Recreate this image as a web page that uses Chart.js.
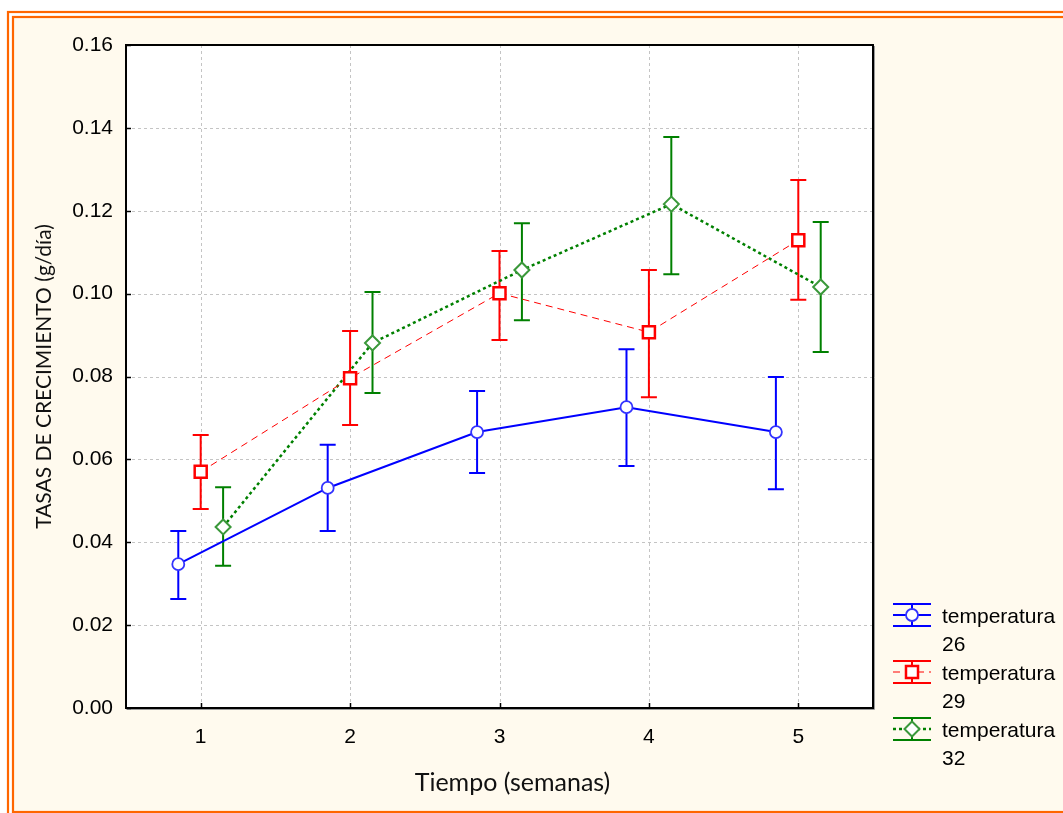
<!DOCTYPE html>
<html><head><meta charset="utf-8">
<script src="https://cdn.jsdelivr.net/npm/chart.js@4"></script>
<style>html,body{margin:0;padding:0;background:#fff}canvas{display:block}</style>
</head><body>
<canvas id="c" width="1063" height="813"></canvas>
<script>
// ---- data ----
const weeks = [1, 2, 3, 4, 5];
const yTicks = [0, 0.02, 0.04, 0.06, 0.08, 0.10, 0.12, 0.14, 0.16];
const seriesLabels = ['temperatura 26', 'temperatura 29', 'temperatura 32'];
const dodge = [-0.15, 0, 0.15];

const mean26  = [0.0347, 0.0531, 0.0666, 0.0726, 0.0666];
const upper26 = [0.0427, 0.0635, 0.0765, 0.0866, 0.0799];
const lower26 = [0.0263, 0.0427, 0.0567, 0.0584, 0.0528];

const mean29  = [0.0570, 0.0796, 0.1001, 0.0907, 0.1129];
const upper29 = [0.0659, 0.0910, 0.1103, 0.1057, 0.1274];
const lower29 = [0.0480, 0.0683, 0.0888, 0.0750, 0.0985];

const mean32  = [0.0437, 0.0881, 0.1057, 0.1216, 0.1016];
const upper32 = [0.0533, 0.1004, 0.1170, 0.1378, 0.1173];
const lower32 = [0.0343, 0.0760, 0.0936, 0.1047, 0.0859];

const means = [mean26, mean29, mean32];
const uppers = [upper26, upper29, upper32];
const lowers = [lower26, lower29, lower32];

const colors = ['#0000ff', '#ff0000', '#008000'];
const markerColors = ['#3333ff', '#ff0000', '#3a983a'];
const styles = [
  {dash: [], width: 2, point: 'circle', r: 6, bw: 1.8},
  {dash: [7, 5], width: 1, point: 'rect', r: 8.5, bw: 2.5},
  {dash: [3, 3], width: 2.5, point: 'rectRot', r: 7.5, bw: 2}
];

const TICK_FONT = {family: "'Liberation Sans', Arial, sans-serif", size: 21};

const datasets = means.map((m, i) => ({
  label: seriesLabels[i],
  data: weeks.map((w, j) => ({x: w + dodge[i], y: m[j]})),
  borderColor: colors[i],
  borderWidth: styles[i].width,
  borderDash: styles[i].dash,
  showLine: true,
  tension: 0,
  fill: false,
  pointStyle: styles[i].point,
  pointRadius: styles[i].r,
  pointHoverRadius: styles[i].r,
  pointBorderWidth: styles[i].bw,
  pointBorderColor: markerColors[i],
  pointBackgroundColor: '#ffffff'
}));

function drawMarker(ctx, style, x, y, r, bw, color) {
  ctx.save();
  ctx.setLineDash([]);
  ctx.lineWidth = bw; ctx.strokeStyle = color; ctx.fillStyle = '#fff';
  ctx.beginPath();
  if (style === 'circle') {
    ctx.arc(x, y, r, 0, Math.PI * 2);
  } else if (style === 'rect') {
    const s = Math.SQRT1_2 * r;
    ctx.rect(x - s, y - s, 2 * s, 2 * s);
  } else {
    ctx.moveTo(x, y - r); ctx.lineTo(x + r, y); ctx.lineTo(x, y + r); ctx.lineTo(x - r, y); ctx.closePath();
  }
  ctx.fill(); ctx.stroke();
  ctx.restore();
}

const framePlugin = {
  id: 'frame',
  beforeDraw(chart) {
    const ctx = chart.ctx, W = chart.width, H = chart.height, a = chart.chartArea;
    ctx.save();
    ctx.fillStyle = '#ffffff'; ctx.fillRect(0, 0, W, H);
    ctx.fillStyle = '#fffaee'; ctx.fillRect(13, 17, W, H - 17 - 1);
    ctx.strokeStyle = '#ff6600'; ctx.lineWidth = 2.2;
    ctx.strokeRect(8, 12, W + 40, H + 40);
    ctx.strokeRect(13, 17, W + 40, H - 17 - 1);
    ctx.fillStyle = '#ffffff';
    ctx.fillRect(a.left, a.top, a.right - a.left, a.bottom - a.top);
    ctx.restore();
  },
  beforeDatasetsDraw(chart) {
    const ctx = chart.ctx, a = chart.chartArea, xs = chart.scales.x, ys = chart.scales.y;
    ctx.save();
    ctx.strokeStyle = '#c4c4c4'; ctx.lineWidth = 1; ctx.setLineDash([3, 3]);
    weeks.forEach(w => {
      const px = Math.round(xs.getPixelForValue(w)) + 0.5;
      ctx.beginPath(); ctx.moveTo(px, a.top); ctx.lineTo(px, a.bottom); ctx.stroke();
    });
    yTicks.forEach(v => {
      const py = Math.round(ys.getPixelForValue(v)) + 0.5;
      ctx.beginPath(); ctx.moveTo(a.left, py); ctx.lineTo(a.right, py); ctx.stroke();
    });
    ctx.setLineDash([]);
    // error bars
    chart.data.datasets.forEach((ds, i) => {
      const meta = chart.getDatasetMeta(i);
      ctx.strokeStyle = colors[i]; ctx.lineWidth = 2;
      meta.data.forEach((pt, j) => {
        const x = pt.x;
        const yu = ys.getPixelForValue(uppers[i][j]);
        const yl = ys.getPixelForValue(lowers[i][j]);
        ctx.beginPath();
        ctx.moveTo(x, yu); ctx.lineTo(x, yl);
        ctx.moveTo(x - 8, yu); ctx.lineTo(x + 8, yu);
        ctx.moveTo(x - 8, yl); ctx.lineTo(x + 8, yl);
        ctx.stroke();
      });
    });
    ctx.restore();
  },
  afterDraw(chart) {
    const ctx = chart.ctx, a = chart.chartArea, xs = chart.scales.x, ys = chart.scales.y;
    ctx.save();
    // plot border with faint shadow
    ctx.strokeStyle = '#9a9a9a'; ctx.lineWidth = 1;
    ctx.beginPath();
    ctx.moveTo(a.right + 1.5, a.top + 1); ctx.lineTo(a.right + 1.5, a.bottom + 1.5); ctx.lineTo(a.left + 1, a.bottom + 1.5);
    ctx.stroke();
    ctx.strokeStyle = '#000'; ctx.lineWidth = 2;
    ctx.strokeRect(a.left, a.top, a.right - a.left, a.bottom - a.top);
    // inward tick marks
    ctx.lineWidth = 1.5;
    weeks.forEach(w => {
      const px = Math.round(xs.getPixelForValue(w)) + 0.5;
      ctx.beginPath(); ctx.moveTo(px, a.bottom); ctx.lineTo(px, a.bottom - 5); ctx.stroke();
    });
    yTicks.forEach(v => {
      const py = Math.round(ys.getPixelForValue(v)) + 0.5;
      ctx.beginPath(); ctx.moveTo(a.left, py); ctx.lineTo(a.left + 5, py); ctx.stroke();
    });
    // x axis title
    ctx.fillStyle = '#111';
    ctx.font = "25px Lato, 'Open Sans', sans-serif";
    ctx.textAlign = 'center'; ctx.textBaseline = 'alphabetic';
    ctx.fillText('Tiempo (semanas)', (a.left + a.right) / 2 + 13, 791);
    // legend
    ctx.font = "21px 'Liberation Sans', Arial, sans-serif";
    ctx.textAlign = 'left'; ctx.textBaseline = 'middle';
    chart.data.datasets.forEach((ds, i) => {
      const cy = 615 + i * 57, x0 = 893, x1 = 931, cx = 912;
      ctx.strokeStyle = colors[i]; ctx.lineWidth = 2; ctx.setLineDash([]);
      ctx.beginPath();
      ctx.moveTo(x0, cy - 11); ctx.lineTo(x1, cy - 11);
      ctx.moveTo(x0, cy + 11); ctx.lineTo(x1, cy + 11);
      ctx.moveTo(cx, cy - 11); ctx.lineTo(cx, cy + 11);
      ctx.stroke();
      ctx.lineWidth = styles[i].width; ctx.setLineDash(styles[i].dash);
      ctx.beginPath(); ctx.moveTo(x0, cy); ctx.lineTo(x1, cy); ctx.stroke();
      ctx.setLineDash([]);
      drawMarker(ctx, styles[i].point, cx, cy, styles[i].r, styles[i].bw, markerColors[i]);
      const parts = ds.label.split(' ');
      ctx.fillStyle = '#000';
      ctx.fillText(parts[0], 942, cy + 2);
      ctx.fillText(parts[1], 942, cy + 30);
    });
    ctx.restore();
  }
};

new Chart(document.getElementById('c'), {
  type: 'scatter',
  data: {datasets},
  options: {
    responsive: false,
    animation: false,
    events: [],
    layout: {padding: {left: 0, top: 45, right: 190, bottom: 0}},
    plugins: {legend: {display: false}, tooltip: {enabled: false}},
    scales: {
      x: {
        type: 'linear', min: 0.5, max: 5.5,
        afterBuildTicks: s => { s.ticks = weeks.map(v => ({value: v})); },
        afterFit: s => { s.height = 105; },
        grid: {display: false, drawTicks: false},
        border: {display: false},
        ticks: {color: '#000', font: TICK_FONT, padding: 17, callback: v => String(v), maxRotation: 0}
      },
      y: {
        type: 'linear', min: 0, max: 0.16,
        afterBuildTicks: s => { s.ticks = yTicks.map(v => ({value: v})); },
        afterFit: s => { s.width = 126; },
        grid: {display: false, drawTicks: false},
        border: {display: false},
        ticks: {color: '#000', font: TICK_FONT, padding: 13, callback: v => v.toFixed(2)},
        title: {display: true, text: 'TASAS DE CRECIMIENTO (g/día)', color: '#111',
                font: {family: "Lato, 'Open Sans', sans-serif", size: 21}, padding: {top: 32, bottom: 0}}
      }
    }
  },
  plugins: [framePlugin]
});
</script>
</body></html>
